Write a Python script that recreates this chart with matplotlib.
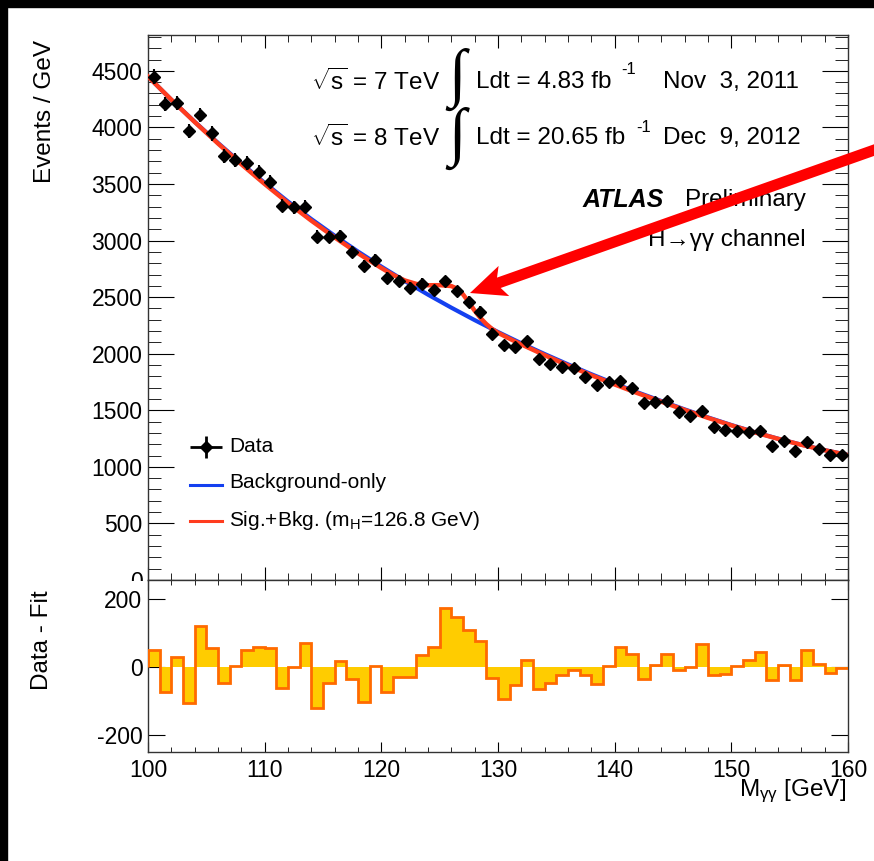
import numpy as np
import matplotlib
matplotlib.use('Agg')
import matplotlib.pyplot as plt
from matplotlib.patches import Rectangle, FancyArrow

plt.rcParams['font.family'] = ['Liberation Sans', 'DejaVu Sans']
plt.rcParams['mathtext.fontset'] = 'custom'
plt.rcParams['mathtext.rm'] = 'Liberation Sans'
plt.rcParams['mathtext.it'] = 'Liberation Sans:italic'
plt.rcParams['mathtext.bf'] = 'Liberation Sans:bold'
plt.rcParams['axes.unicode_minus'] = False

# 1 GeV bins from 100 to 160
edges = np.arange(100, 161, 1)
centers = edges[:-1] + 0.5

data = [4447, 4206, 4215, 3971, 4109, 3947, 3745, 3712, 3683, 3609,
        3521, 3310, 3295, 3301, 3036, 3030, 3039, 2898, 2774, 2828,
        2668, 2642, 2580, 2619, 2560, 2639, 2551, 2457, 2369, 2178,
        2075, 2055, 2110, 1949, 1913, 1884, 1870, 1796, 1722, 1751,
        1757, 1698, 1566, 1575, 1581, 1487, 1449, 1493, 1349, 1325,
        1319, 1310, 1319, 1184, 1231, 1140, 1222, 1155, 1105, 1105]
data_err = [67, 65, 65, 63, 64, 63, 61, 61, 61, 60,
            59, 58, 57, 57, 55, 55, 55, 54, 53, 53,
            52, 51, 51, 51, 51, 51, 51, 50, 49, 47,
            46, 45, 46, 44, 44, 43, 43, 42, 41, 42,
            42, 41, 40, 40, 40, 39, 38, 39, 37, 36,
            36, 36, 36, 34, 35, 34, 35, 34, 33, 33]

# data - background fit
resid = [49, -74, 29, -106, 121, 56, -46, 3, 49, 59,
         55, -62, -1, 70, -122, -46, 17, -37, -103, 3,
         -73, -29, -29, 34, 59, 173, 147, 108, 75, -34,
         -95, -54, 20, -64, -46, -24, -10, -24, -51, 3,
         58, 37, -37, 6, 39, -10, 0, 66, -24, -21,
         3, 20, 43, -39, 6, -39, 49, 8, -17, -3]

bkg_x = [100, 102, 104, 106, 108, 110, 112, 114, 116, 118, 120, 122, 124, 126, 128,
         130, 132, 134, 136, 138, 140, 142, 144, 146, 148, 150, 152, 154, 156, 158, 160]
bkg_y = [4450, 4245, 4050, 3863, 3683, 3510, 3345, 3190, 3043, 2903, 2770, 2643, 2522, 2407, 2297,
         2192, 2092, 1997, 1906, 1819, 1736, 1657, 1582, 1508, 1437, 1370, 1307, 1249, 1196, 1148, 1105]

sb_x = [100, 102, 104, 106, 108, 110, 112, 114, 116, 118, 119, 120, 121, 122, 123, 124, 125,
        126, 126.5, 127, 127.5, 128, 128.5, 129, 129.5, 130, 131, 132, 134, 136, 138, 140,
        142, 144, 146, 148, 150, 152, 154, 156, 158, 160]
sb_y = [4450, 4245, 4048, 3858, 3675, 3500, 3333, 3176, 3028, 2888, 2822, 2758, 2697, 2648, 2617, 2605, 2606,
        2598, 2575, 2525, 2455, 2380, 2315, 2262, 2218, 2185, 2132, 2082, 1987, 1896, 1810, 1728,
        1650, 1576, 1503, 1433, 1367, 1305, 1248, 1195, 1147, 1104]

blue = '#1440f0'
red = '#ff3c1e'

W, H = 874, 861
fig = plt.figure(figsize=(W / 100, H / 100), dpi=100)
fig.patch.set_facecolor('white')

def box(x0, y0, x1, y1):
    return [x0 / W, (H - y1) / H, (x1 - x0) / W, (y1 - y0) / H]

ax1 = fig.add_axes(box(148, 35, 848, 580))
ax2 = fig.add_axes(box(148, 580, 848, 752))
ax2.set_zorder(2)

ax1.plot(bkg_x, bkg_y, color=blue, lw=3, zorder=2)
ax1.plot(sb_x, sb_y, color=red, lw=3.2, zorder=3)
ax1.errorbar(centers, data, yerr=data_err, fmt='D', color='k', ms=6, elinewidth=1.5, capsize=0, zorder=4)
ax1.set_xlim(100, 160)
ax1.set_ylim(0, 4817)
ax1.set_xticks(np.arange(100, 161, 10))
ax1.set_xticks(np.arange(100, 161, 2), minor=True)
ax1.set_yticks(np.arange(0, 4501, 500))
ax1.set_yticks(np.arange(0, 4801, 100), minor=True)
ax1.tick_params(which='both', direction='in', top=True, right=True, labelbottom=False, labelsize=16.5, pad=4)
ax1.tick_params(axis='x', which='major', length=9.5)
ax1.tick_params(axis='x', which='minor', length=4.8)
ax1.tick_params(axis='y', which='major', length=18.5)
ax1.tick_params(axis='y', which='minor', length=9.4)

ax2.stairs(resid, edges, baseline=0, fill=True, color='#ffcc00', zorder=2)
ax2.stairs(resid, edges, baseline=0, color='#ff6a00', lw=2, zorder=3)
ax2.set_xlim(100, 160)
ax2.set_ylim(-250, 255)
ax2.set_xticks(np.arange(100, 161, 10))
ax2.set_xticks(np.arange(100, 161, 2), minor=True)
ax2.set_yticks([-200, 0, 200])
ax2.tick_params(which='both', direction='in', top=True, right=True, labelsize=16.5)
ax2.tick_params(axis='x', which='major', length=7.5, pad=5)
ax2.tick_params(axis='x', which='minor', length=3.8)
ax2.tick_params(axis='y', which='major', length=12.5, pad=4)

for a in (ax1, ax2):
    for s in a.spines.values():
        s.set_color('#333333')
        s.set_linewidth(1.0)

# hide the lower half of the "0" label, like the overlapping ratio pad
fig.add_artist(Rectangle((7 / W, 0), 140 / W, (H - 581) / H, transform=fig.transFigure,
                         facecolor='white', edgecolor='none', zorder=1))

# overlay in pixel units for texts, legend and arrow
ov = fig.add_axes([0, 0, 1, 1])
ov.set_zorder(5)
ov.set_xlim(0, W)
ov.set_ylim(H, 0)
ov.axis('off')
ov.patch.set_alpha(0)

# black frame strips at the top and left
ov.add_patch(Rectangle((0, 0), W, 7, color='black'))
ov.add_patch(Rectangle((0, 0), 7, H, color='black'))

ov.text(45, 40, 'Events / GeV', rotation=90, ha='center', va='top', fontsize=17.5)
ov.text(42, 590, 'Data - Fit', rotation=90, ha='center', va='top', fontsize=17.5)
ov.text(846, 791, r'M$_{\rm γγ}$ [GeV]', ha='right', va='center', fontsize=17.5)

fs = 17.5
ov.text(311, 82, r'$\sqrt{\rm s}$ = 7 TeV', ha='left', va='center', fontsize=fs)
ov.text(311, 138, r'$\sqrt{\rm s}$ = 8 TeV', ha='left', va='center', fontsize=fs)
ov.text(457, 79, '∫', ha='center', va='center', fontsize=46, family=['Liberation Serif', 'DejaVu Serif'])
ov.text(457, 138, '∫', ha='center', va='center', fontsize=46, family=['Liberation Serif', 'DejaVu Serif'])
ov.text(476, 82, 'Ldt = 4.83 fb', ha='left', va='center', fontsize=fs)
ov.text(621, 70, '-1', ha='left', va='center', fontsize=12)
ov.text(663, 82, 'Nov  3, 2011', ha='left', va='center', fontsize=fs)
ov.text(476, 138, 'Ldt = 20.65 fb', ha='left', va='center', fontsize=fs)
ov.text(636, 127, '-1', ha='left', va='center', fontsize=12)
ov.text(663, 138, 'Dec  9, 2012', ha='left', va='center', fontsize=fs)
ov.text(583, 200, 'ATLAS', ha='left', va='center', fontsize=18, fontweight='bold', fontstyle='italic')
ov.text(685, 200, 'Preliminary', ha='left', va='center', fontsize=fs)
ov.text(806, 240, 'H→γγ channel', ha='right', va='center', fontsize=fs)

# legend
lfs = 15
ov.errorbar([206], [447], xerr=[16], yerr=[11], fmt='D', color='k', ms=6, elinewidth=2, capsize=0)
ov.plot([190, 222], [485, 485], color=blue, lw=2.2)
ov.plot([190, 222], [521, 521], color=red, lw=2.2)
ov.text(229, 446, 'Data', ha='left', va='center', fontsize=lfs)
ov.text(229, 483, 'Background-only', ha='left', va='center', fontsize=lfs)
ov.text(229, 520, r'Sig.+Bkg. (m$_{\rm H}$=126.8 GeV)', ha='left', va='center', fontsize=lfs)

# red arrow pointing at the excess, drawn over the texts
ov.add_patch(FancyArrow(880, 148, 470 - 880, 293 - 148, width=11, head_width=32, head_length=36,
                        overhang=0.15, length_includes_head=True, color='#ff0000', lw=0, zorder=10))

fig.savefig('out.png', dpi=100)
